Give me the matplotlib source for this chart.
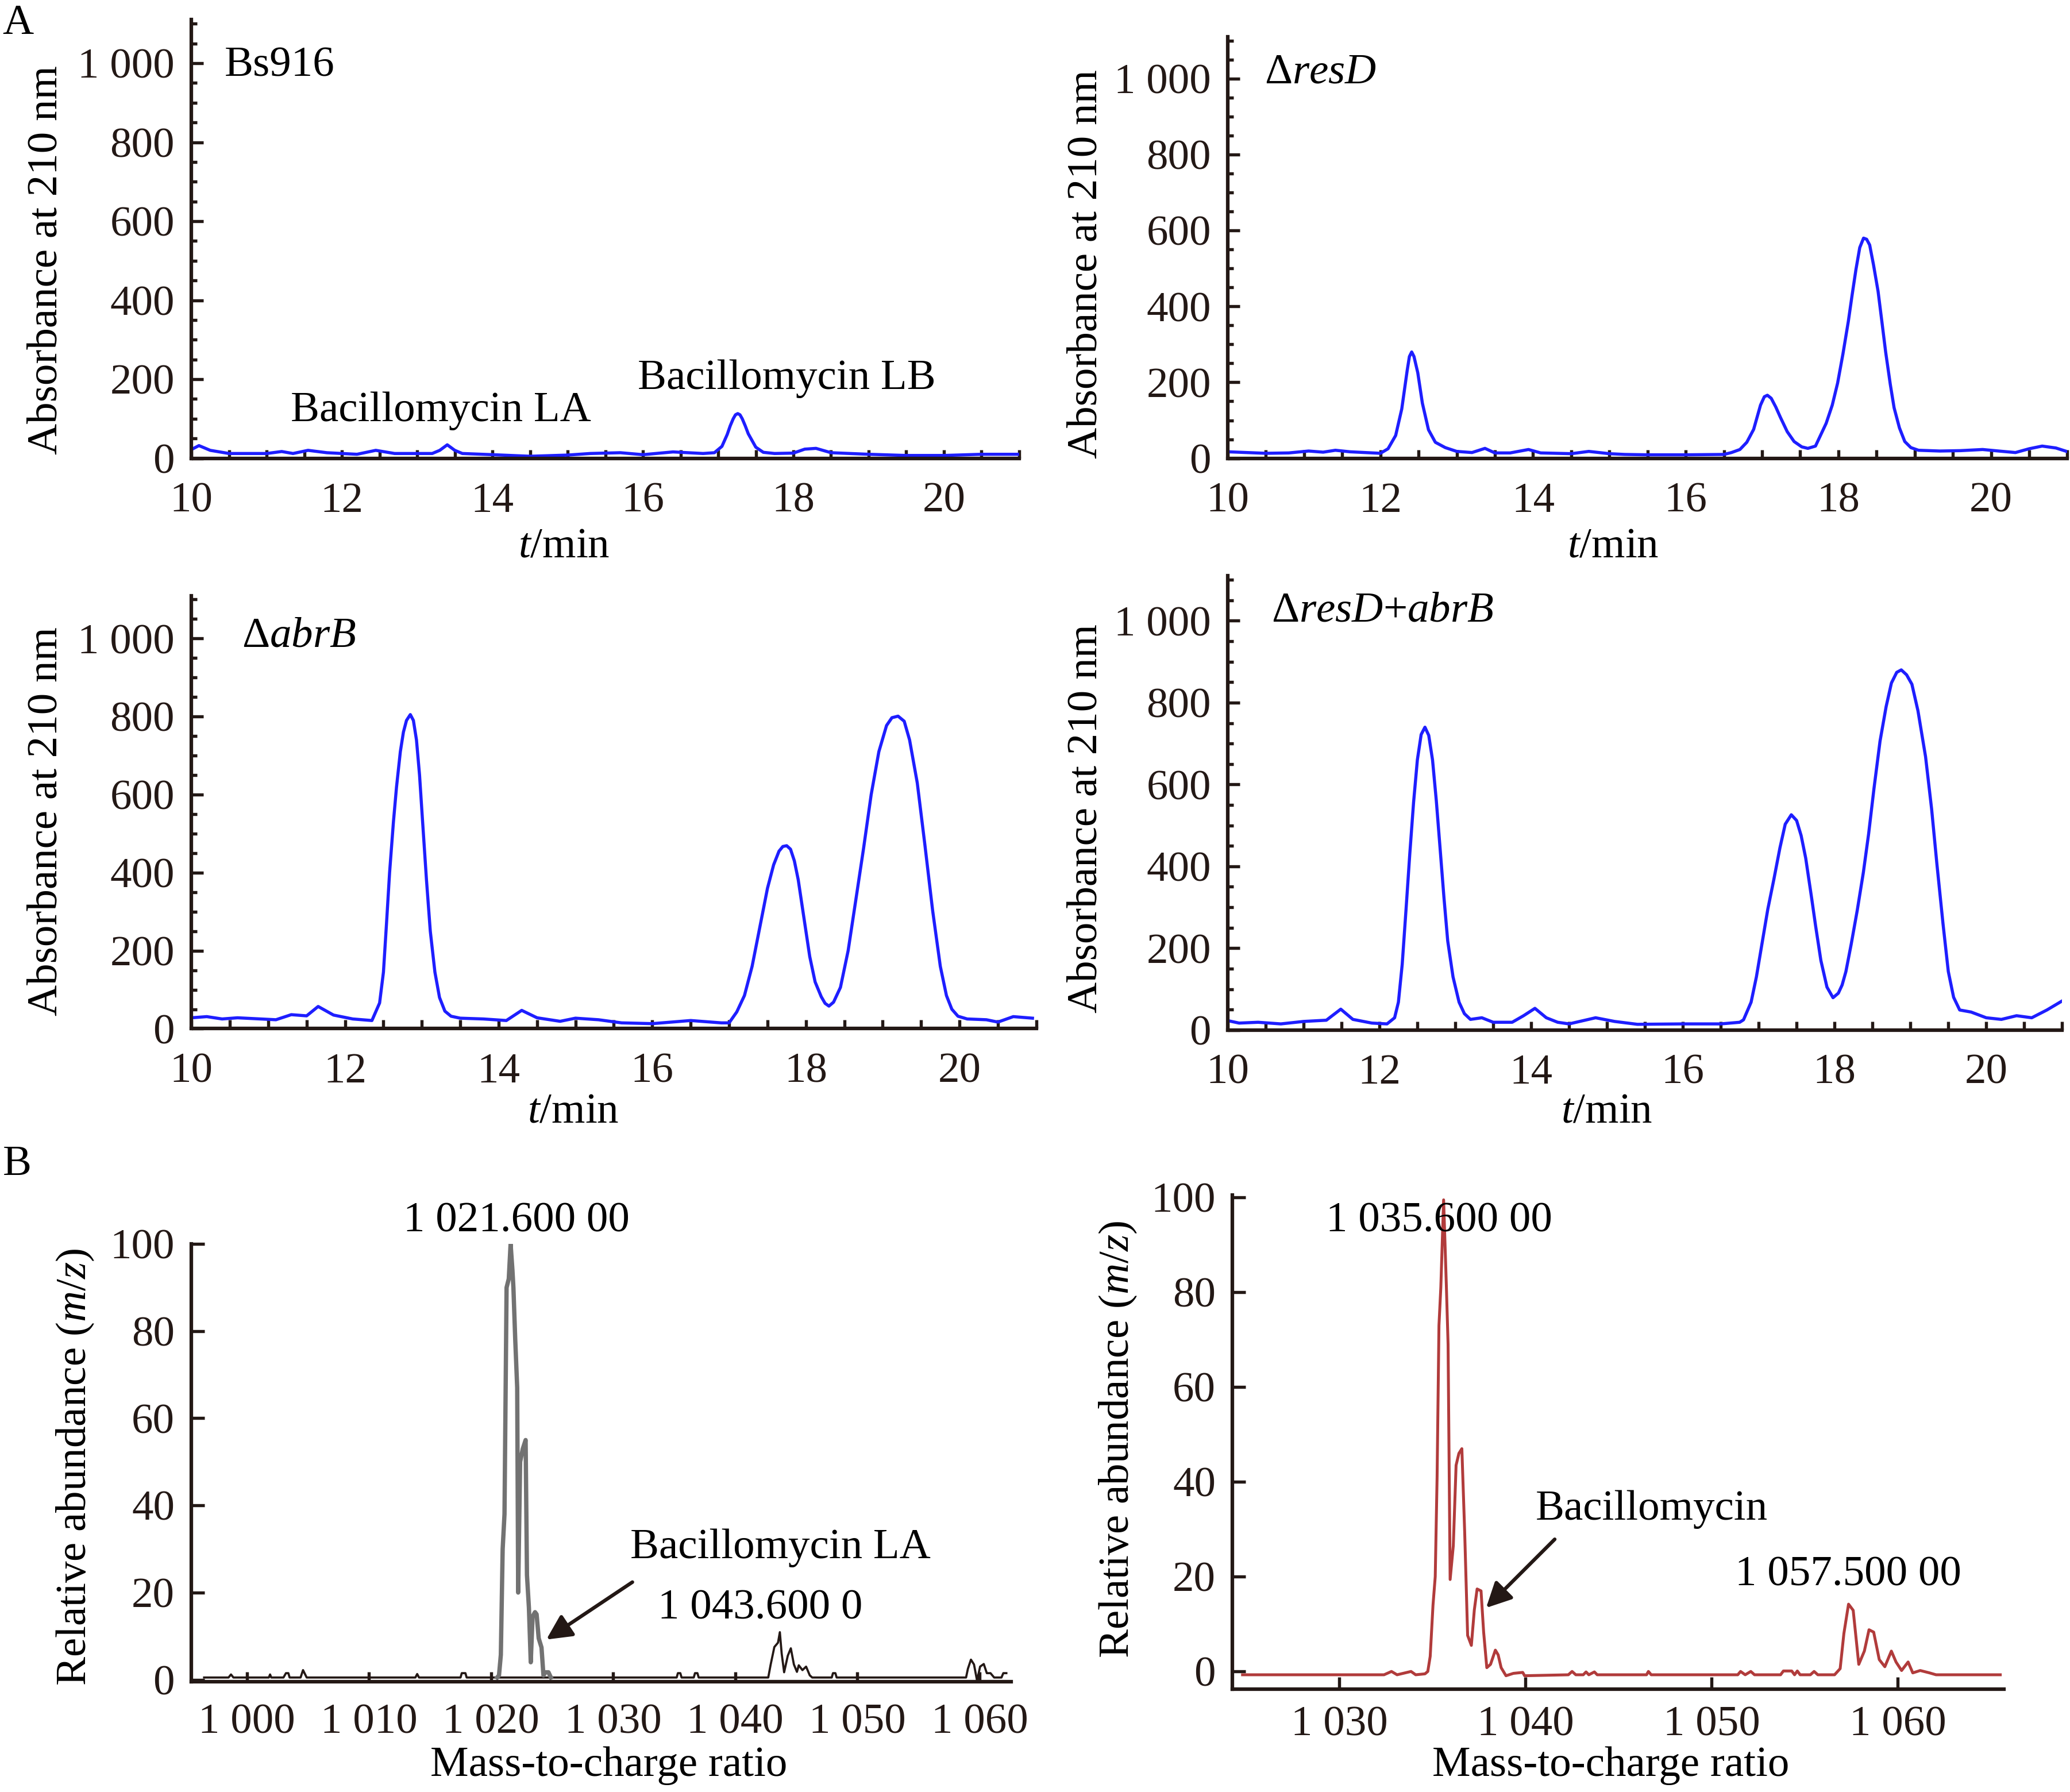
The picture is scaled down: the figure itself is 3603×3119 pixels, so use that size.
import numpy as np
import matplotlib
matplotlib.use("Agg")
import matplotlib.pyplot as plt
from matplotlib.ticker import MultipleLocator, FuncFormatter

plt.rcParams.update({
    'font.family': 'Liberation Serif',
    'font.size': 18,
    'mathtext.fontset': 'custom',
    'mathtext.rm': 'Liberation Serif',
    'mathtext.it': 'Liberation Serif:italic',
    'axes.linewidth': 1.5,
    'axes.edgecolor': '#231815',
    'xtick.direction': 'in',
    'ytick.direction': 'in',
    'xtick.color': '#231815',
    'ytick.color': '#231815',
    'lines.solid_joinstyle': 'round',
})

# ---- HPLC traces (t/min, absorbance at 210 nm) ----
bs916_t = [10.0, 10.1, 10.25, 10.5, 11.0, 11.2, 11.35, 11.55, 11.8, 12.2, 12.45, 12.7, 13.2, 13.3, 13.4,
           13.5, 13.6, 14.0, 14.5, 15.0, 15.3, 15.7, 16.0, 16.4, 16.8, 16.95, 17.05, 17.12, 17.16, 17.2,
           17.23, 17.26, 17.29, 17.32, 17.36, 17.4, 17.5, 17.6, 17.75, 18.0, 18.15, 18.3, 18.5, 19.0,
           19.5, 20.0, 20.5, 21.0]
bs916_a = [22, 32, 20, 12, 12, 17, 12, 20, 14, 10, 20, 12, 12, 20, 34,
           20, 12, 9, 5, 8, 12, 14, 9, 16, 12, 14, 30, 60, 82, 100,
           110, 113, 110, 100, 82, 62, 28, 15, 12, 13, 23, 25, 14, 10,
           7, 7, 10, 10]

resd_t = [10.0, 10.5, 10.8, 11.06, 11.25, 11.41, 11.6, 11.8, 12.0, 12.1, 12.2, 12.28, 12.35, 12.38, 12.41,
          12.44, 12.49, 12.55, 12.63, 12.72, 12.85, 13.0, 13.2, 13.37, 13.5, 13.7, 13.94, 14.1, 14.5, 14.73,
          15.0, 15.2, 15.5, 16.0, 16.5, 16.6, 16.71, 16.8, 16.89, 16.98, 17.03, 17.07, 17.12, 17.18, 17.24,
          17.33, 17.42, 17.52, 17.6, 17.7, 17.84, 17.92, 17.99, 18.06, 18.13, 18.18, 18.23, 18.28, 18.33,
          18.37, 18.41, 18.46, 18.52, 18.57, 18.62, 18.68, 18.73, 18.8, 18.87, 18.95, 19.05, 19.33, 19.6,
          19.89, 20.1, 20.32, 20.5, 20.67, 20.85, 20.99]
resd_a = [17, 13, 14, 19, 16, 21, 17, 15, 13, 25, 60, 130, 230, 268, 280,
          268, 225, 145, 75, 42, 28, 18, 15, 26, 14, 14, 23, 14, 12, 18,
          12, 10, 9, 9, 10, 15, 23, 42, 76, 140, 162, 166, 158, 135, 108,
          70, 44, 30, 26, 32, 92, 140, 198, 275, 360, 430, 497, 555, 580,
          577, 562, 510, 440, 360, 279, 195, 133, 80, 44, 28, 21, 19, 20,
          23, 19, 15, 25, 32, 27, 18]

abrb_t = [10.0, 10.2, 10.4, 10.6, 10.9, 11.1, 11.3, 11.5, 11.65, 11.85, 12.1, 12.35, 12.45, 12.5, 12.54,
          12.58, 12.63, 12.67, 12.72, 12.76, 12.8, 12.85, 12.89, 12.93, 12.97, 13.01, 13.06, 13.11, 13.17,
          13.23, 13.3, 13.38, 13.5, 13.8, 14.1, 14.3, 14.5, 14.8, 15.0, 15.3, 15.6, 16.0, 16.5, 16.9,
          17.0, 17.1, 17.2, 17.3, 17.4, 17.5, 17.58, 17.65, 17.7, 17.75, 17.8, 17.85, 17.9, 17.97, 18.05,
          18.12, 18.2, 18.25, 18.3, 18.36, 18.45, 18.55, 18.65, 18.75, 18.85, 18.95, 19.05, 19.12, 19.2,
          19.28, 19.35, 19.45, 19.55, 19.65, 19.75, 19.83, 19.9, 19.98, 20.1, 20.35, 20.5, 20.7, 20.95]
abrb_a = [28, 31, 25, 28, 25, 23, 36, 33, 57, 35, 25, 21, 66, 145, 270,
          400, 530, 619, 710, 760, 790, 805, 790, 740, 650, 530, 382, 250, 145,
          80, 45, 32, 27, 25, 21, 47, 28, 19, 27, 23, 15, 13, 21, 15,
          15, 43, 85, 160, 260, 360, 420, 455, 467, 469, 460, 430, 382, 290, 185,
          120, 82, 65, 58, 68, 106, 200, 330, 461, 600, 710, 777, 797, 801,
          788, 740, 630, 470, 303, 160, 85, 50, 32, 25, 23, 17, 31, 27]

both_t = [10.0, 10.15, 10.4, 10.7, 11.0, 11.3, 11.49, 11.65, 11.9, 12.1, 12.2, 12.25, 12.3, 12.35, 12.4,
          12.45, 12.5, 12.55, 12.6, 12.65, 12.7, 12.75, 12.8, 12.85, 12.9, 12.97, 13.05, 13.12, 13.2,
          13.35, 13.5, 13.75, 13.9, 14.05, 14.2, 14.35, 14.5, 14.85, 15.1, 15.4, 16.0, 16.5, 16.75, 16.8,
          16.9, 16.97, 17.05, 17.12, 17.2, 17.28, 17.35, 17.43, 17.5, 17.56, 17.62, 17.7, 17.75, 17.82,
          17.9, 17.98, 18.05, 18.1, 18.15, 18.22, 18.3, 18.38, 18.45, 18.52, 18.6, 18.68, 18.75, 18.82,
          18.88, 18.95, 19.02, 19.1, 19.2, 19.28, 19.35, 19.43, 19.5, 19.57, 19.65, 19.8, 20.0, 20.2,
          20.4, 20.6, 20.8, 21.0]
both_a = [23, 17, 19, 15, 21, 24, 51, 26, 17, 15, 30, 68, 160, 293, 430,
          556, 660, 722, 740, 720, 660, 560, 443, 325, 218, 130, 68, 40, 26,
          30, 19, 19, 35, 53, 30, 19, 15, 30, 21, 14, 15, 15, 19, 25,
          68, 130, 218, 295, 368, 445, 503, 526, 512, 475, 420, 320, 255, 170,
          105, 79, 90, 110, 143, 210, 293, 385, 480, 590, 706, 790, 848, 874,
          880, 868, 845, 780, 668, 540, 405, 260, 143, 80, 49, 44, 30, 26,
          35, 30, 49, 71]

# ---- MS spectra (m/z, relative abundance) ----
ms1_bg_mz = [996.5, 998.5, 998.7, 998.9, 1001.8, 1001.9, 1002.0, 1003.0, 1003.2, 1003.4, 1003.5,
             1004.4, 1004.6, 1004.9, 1013.8, 1013.95, 1014.1, 1017.5, 1017.6, 1017.9, 1018.0,
             1020.5, 1024.9, 1035.2, 1035.3, 1035.5, 1035.6, 1036.6, 1036.7, 1036.9, 1037.0,
             1042.7, 1042.9, 1043.2, 1043.5, 1043.65, 1043.8, 1044.0, 1044.3, 1044.55, 1044.8,
             1045.05, 1045.2, 1045.5, 1045.8, 1046.1, 1046.3, 1047.9, 1048.0, 1048.2, 1048.3,
             1058.9, 1059.05, 1059.3, 1059.55, 1059.8, 1060.05, 1060.35, 1060.6, 1060.9, 1061.2,
             1061.8, 1061.95, 1062.2]
ms1_bg_ab = [0.5, 0.5, 1.2, 0.5, 0.5, 1.2, 0.5, 0.5, 1.5, 1.5, 0.5,
             0.5, 2.2, 0.5, 0.5, 1.3, 0.5, 0.5, 1.5, 1.5, 0.5,
             0.5, 0.5, 0.5, 1.5, 1.5, 0.5, 0.5, 1.5, 1.5, 0.5,
             0.5, 3.5, 7.5, 8.5, 10.9, 6.0, 1.7, 5.5, 7.2, 3.5,
             1.8, 3.3, 2.2, 3.0, 1.0, 0.5, 0.5, 1.5, 1.5, 0.5,
             0.5, 2.5, 4.6, 3.5, -0.2, 3.0, 3.6, 1.5, 1.5, 0.5,
             0.5, 1.5, 1.5]
ms1_main_mz = [1020.5, 1020.65, 1020.8, 1020.95, 1021.1, 1021.27, 1021.45, 1021.6, 1021.75, 1021.83,
               1021.98, 1022.14, 1022.22, 1022.38, 1022.6, 1022.83, 1022.94, 1023.1, 1023.25, 1023.4,
               1023.6, 1023.73, 1023.9, 1024.13, 1024.29, 1024.45, 1024.7, 1024.9]
ms1_main_ab = [0.5, 1.0, 5.7, 30, 38, 90, 92, 100, 94, 90,
               78, 67, 20, 50, 53, 55, 24, 16.5, 4, 14.5,
               15.5, 15, 9.5, 7.4, 1.0, 1.7, 1.7, 0.5]

ms2_mz = [1024.8, 1032.4, 1032.8, 1033.1, 1033.85, 1034.1, 1034.6, 1034.75, 1034.88, 1035.03, 1035.15,
          1035.25, 1035.35, 1035.45, 1035.6, 1035.75, 1035.84, 1035.95, 1036.12, 1036.27, 1036.42,
          1036.58, 1036.73, 1036.89, 1037.09, 1037.25, 1037.4, 1037.61, 1037.75, 1037.92, 1038.12,
          1038.38, 1038.53, 1038.69, 1038.95, 1039.35, 1039.85, 1039.95, 1042.3, 1042.5, 1042.7,
          1043.1, 1043.25, 1043.4, 1043.7, 1043.85, 1046.5, 1046.6, 1046.75, 1051.4, 1051.55,
          1051.8, 1052.1, 1052.3, 1053.7, 1053.85, 1054.3, 1054.45, 1054.6, 1054.75, 1055.3,
          1055.5, 1055.7, 1056.6, 1056.9, 1057.1, 1057.35, 1057.6, 1057.9, 1058.2, 1058.45,
          1058.7, 1059.0, 1059.3, 1059.65, 1059.9, 1060.2, 1060.55, 1060.8, 1061.2, 1061.7,
          1062.05, 1065.5]
ms2_ab = [-0.7, -0.7, 0.0, -0.7, 0.0, -0.7, -0.5, 0.0, 3.2, 14, 20,
          41, 73, 81, 99.5, 81, 69, 19.4, 26.5, 43.5, 46,
          47, 29.6, 7.6, 5.5, 13, 17.4, 17, 8.3, 0.8, 1.5,
          4.5, 3.5, 0.8, -0.9, -0.4, -0.2, -0.9, -0.7, 0.0, -0.7,
          -0.7, -0.1, -0.7, -0.1, -0.7, -0.7, 0.0, -0.7, -0.7, 0.0,
          -0.7, 0.0, -0.7, -0.7, 0.1, 0.1, -0.7, 0.1, -0.7, -0.7,
          0.0, -0.7, -0.7, 0.6, 8, 14.2, 12.9, 1.5, 4.3, 8.8,
          8.3, 2.5, 1.0, 4.3, 2.0, 0.2, 2.0, -0.3, 0.2, -0.3,
          -0.7, -0.7]

BLACK = '#231815'
BLUE = '#1e1eff'

# layout is measured on a 1568 x 1357 copy of the reference
W, H = 1568.0, 1357.0


def box(l, r, t, b):
    return [l / W, 1 - b / H, (r - l) / W, (b - t) / H]


def ftext(x, y, s, **kw):
    kw.setdefault('ha', 'center')
    kw.setdefault('va', 'center')
    fig.text(x / W, 1 - y / H, s, **kw)


def spaced(v, pos):
    return f"{v:,.0f}".replace(",", " ")


def style_axes(ax):
    for side in ('top', 'right'):
        ax.spines[side].set_visible(False)
    ax.tick_params(which='both', top=False, right=False, width=1.3, labelsize=18)


fig = plt.figure(figsize=(3603 / 300, 3119 / 300), dpi=300)

hplc = [
    (bs916_t, bs916_a, box(145, 772, 15, 347)),
    (resd_t, resd_a, box(930, 1566, 28, 347)),
    (abrb_t, abrb_a, box(145, 785, 451, 779)),
    (both_t, both_a, box(930, 1562, 436, 780)),
]
for t, a, rect in hplc:
    ax = fig.add_axes(rect)
    ax.plot(t, a, color=BLUE, lw=1.3)
    ax.set_xlim(10, 21)
    ax.set_ylim(0, 1110)
    style_axes(ax)
    ax.xaxis.set_major_locator(MultipleLocator(2))
    ax.xaxis.set_minor_locator(MultipleLocator(0.5))
    ax.yaxis.set_major_locator(MultipleLocator(200))
    ax.yaxis.set_minor_locator(MultipleLocator(50))
    ax.yaxis.set_major_formatter(FuncFormatter(spaced))
    ax.tick_params(axis='x', which='both', length=3.5, pad=10)
    ax.tick_params(axis='y', which='major', length=5, pad=7)
    ax.tick_params(axis='y', which='minor', length=2.5)

# MS panel 1
ax1 = fig.add_axes(box(145, 766, 942, 1273.6))
ax1.plot(ms1_bg_mz, ms1_bg_ab, color=BLACK, lw=0.9)
ax1.plot(ms1_main_mz, ms1_main_ab, color='#727272', lw=1.8)
ax1.set_xlim(995.46, 1062.6)
ax1.set_ylim(-0.5, 100)
style_axes(ax1)
ax1.xaxis.set_major_locator(MultipleLocator(10))
ax1.xaxis.set_major_formatter(FuncFormatter(spaced))
ax1.yaxis.set_major_locator(MultipleLocator(20))
ax1.tick_params(axis='x', length=4, pad=9)
ax1.tick_params(axis='y', length=5.5, pad=7)
ax1.annotate('', xy=(1024.2, 8.6), xytext=(1031.9, 23.0),
             arrowprops=dict(arrowstyle='-|>', color=BLACK, lw=1.5, mutation_scale=22))

# MS panel 2
ax2 = fig.add_axes(box(933.6, 1518, 905, 1279))
ax2.plot(ms2_mz, ms2_ab, color='#b13b3b', lw=1.2)
ax2.set_xlim(1024.26, 1065.7)
ax2.set_ylim(-3.7, 100.5)
style_axes(ax2)
ax2.xaxis.set_major_locator(MultipleLocator(10))
ax2.xaxis.set_major_formatter(FuncFormatter(spaced))
ax2.yaxis.set_major_locator(MultipleLocator(20))
ax2.tick_params(axis='x', length=5, pad=7)
ax2.tick_params(axis='y', length=5.5, pad=7)
ax2.annotate('', xy=(1037.7, 12.7), xytext=(1041.75, 28.6),
             arrowprops=dict(arrowstyle='-|>', color=BLACK, lw=1.5, mutation_scale=22))

# panel letters and annotations
ftext(2, 18, 'A', ha='left', fontsize=18)
ftext(2, 882, 'B', ha='left', fontsize=18)

ftext(170, 50, 'Bs916', ha='left')
ftext(334, 311, 'Bacillomycin LA')
ftext(596, 287, 'Bacillomycin LB')
ftext(958, 55, 'Δ$resD$', ha='left')
ftext(183, 482, 'Δ$abrB$', ha='left')
ftext(963, 463, 'Δ$resD$+$abrB$', ha='left')

for x, y in [(427, 414), (1222, 414), (434, 842), (1217, 842)]:
    ftext(x, y, '$t$/min')
for x, y in [(35, 197), (823, 200), (35, 622), (823, 620)]:
    ftext(x, y, 'Absorbance at 210 nm', rotation=90)

ftext(391, 925, '1 021.600 00')
ftext(591, 1172, 'Bacillomycin LA')
ftext(576, 1218, '1 043.600 0')
ftext(57, 1111, 'Relative abundance ($m/z$)', rotation=90)
ftext(461, 1337, 'Mass-to-charge ratio')

ftext(1090, 925, '1 035.600 00')
ftext(1251, 1143, 'Bacillomycin')
ftext(1400, 1193, '1 057.500 00')
ftext(847, 1090, 'Relative abundance ($m/z$)', rotation=90)
ftext(1220, 1337, 'Mass-to-charge ratio')

fig.savefig('out.png', dpi=300)
